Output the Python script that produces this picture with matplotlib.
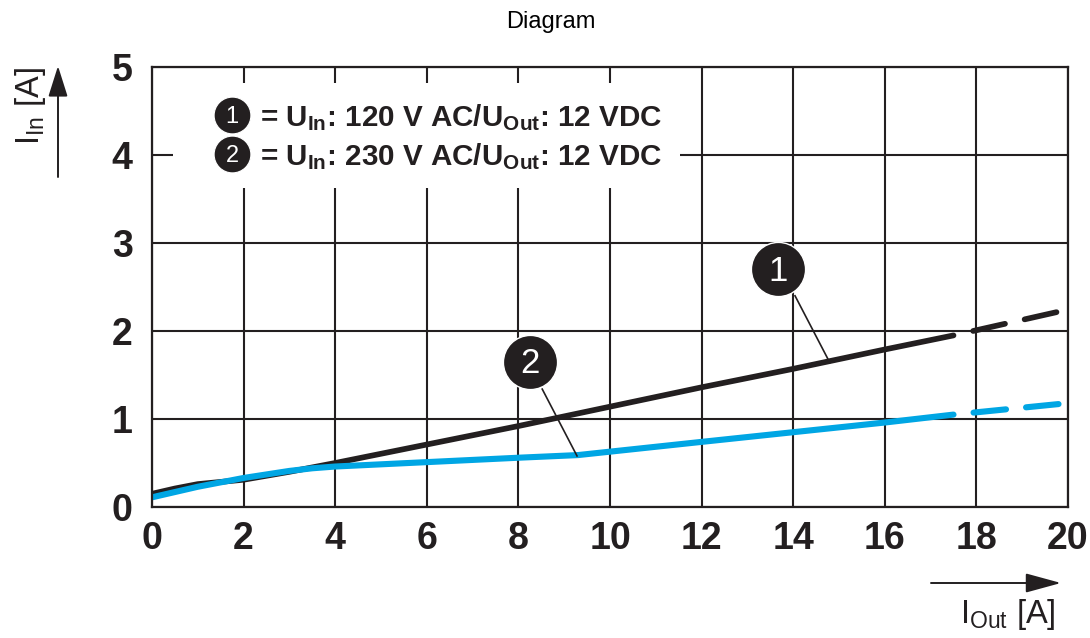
import matplotlib
matplotlib.use("Agg")
import matplotlib.pyplot as plt
from matplotlib.patches import Rectangle

plt.rcParams['font.family'] = ['Liberation Sans', 'DejaVu Sans']
plt.rcParams['mathtext.fontset'] = 'custom'
plt.rcParams['mathtext.rm'] = 'Liberation Sans'
plt.rcParams['mathtext.bf'] = 'Liberation Sans:bold'
plt.rcParams['mathtext.it'] = 'Liberation Sans'

# ---- data ----
x_ticks = [0, 2, 4, 6, 8, 10, 12, 14, 16, 18, 20]
y_ticks = [0, 1, 2, 3, 4, 5]

# curve 1: U_In 120 V AC
i_out_1 = [0, 0.5, 1, 1.5, 2, 3, 4, 6, 8, 10, 12, 14, 16, 17.5, 19.8]
i_in_1 = [0.15, 0.21, 0.26, 0.285, 0.31, 0.40, 0.50, 0.71, 0.92, 1.14, 1.36, 1.57, 1.79, 1.95, 2.22]
# curve 2: U_In 230 V AC
i_out_2 = [0, 0.5, 1, 1.5, 2, 3, 3.5, 4, 6, 8, 9.3, 12, 14, 16, 17.5, 19.8]
i_in_2 = [0.11, 0.17, 0.23, 0.28, 0.33, 0.41, 0.44, 0.46, 0.51, 0.56, 0.59, 0.74, 0.85, 0.96, 1.05, 1.17]
solid_limit = 17.5  # beyond this, curves are dashed

legend_lines = ["= U$_{\\mathbf{In}}$: 120 V AC/U$_{\\mathbf{Out}}$: 12 VDC",
                "= U$_{\\mathbf{In}}$: 230 V AC/U$_{\\mathbf{Out}}$: 12 VDC"]
labels = ["1", "2"]

BLACK = '#231f20'
BLUE = '#00a6e4'

W, H = 1090, 638
fig = plt.figure(figsize=(W / 100, H / 100), dpi=100)
ax = fig.add_axes([152 / W, 1 - 507 / H, 916 / W, 440 / H])

ax.set_xlim(0, 20)
ax.set_ylim(0, 5)
ax.set_xticks(x_ticks)
ax.set_yticks(y_ticks)
ax.set_xticklabels([str(v) for v in x_ticks], fontsize=27, fontweight='bold')
ax.set_yticklabels([str(v) for v in y_ticks], fontsize=27, fontweight='bold')
ax.tick_params(axis='both', length=0, colors=BLACK)
ax.tick_params(axis='x', pad=10)
ax.tick_params(axis='y', pad=14)
ax.grid(True, color=BLACK, linewidth=1.5, zorder=1)
for s in ax.spines.values():
    s.set_linewidth(1.6)
    s.set_color(BLACK)
    s.set_zorder(5)

# white box behind the legend
ax.add_patch(Rectangle((21 / 916, 319 / 440), 507 / 916, 105 / 440,
                       transform=ax.transAxes, facecolor='white',
                       edgecolor='none', zorder=2))


def draw_curve(xs, ys, color, lw, z):
    sx = [x for x in xs if x <= solid_limit]
    sy = ys[:len(sx)]
    dx = [x for x in xs if x >= solid_limit]
    dy = ys[len(xs) - len(dx):]
    ax.plot(sx, sy, color=color, lw=lw, solid_capstyle='round',
            solid_joinstyle='round', zorder=z)
    on, off = 23.5 / lw, 14.5 / lw
    ax.plot(dx, dy, color=color, lw=lw, linestyle=(on, (on, off)),
            dash_capstyle='round', zorder=z)


draw_curve(i_out_1, i_in_1, BLACK, 4.1, 3)
draw_curve(i_out_2, i_in_2, BLUE, 4.4, 4)

# numbered markers with leader lines
markers = [((13.67, 2.70), (14.04, 2.40), (14.80, 1.64)),
           ((8.25, 1.65), (8.52, 1.34), (9.28, 0.58))]
for lab, (c, p0, p1) in zip(labels, markers):
    ax.plot([p0[0], p1[0]], [p0[1], p1[1]], color=BLACK, lw=1.2, zorder=6)
    ax.plot([c[0]], [c[1]], 'o', ms=39, color=BLACK, mec='white', mew=1.0,
            zorder=7)
    ax.text(c[0], c[1] - 0.02, lab, color='white', fontsize=25,
            ha='center', va='center', zorder=8)

# legend
leg_y = [392 / 440, 353 / 440]
for lab, txt, yy in zip(labels, legend_lines, leg_y):
    ax.plot([80 / 916], [yy], 'o', ms=26.5, color=BLACK, mec='white', mew=0.8,
            transform=ax.transAxes, zorder=7, clip_on=False)
    ax.text(80 / 916, yy - 0.004, lab, color='white', fontsize=17,
            ha='center', va='center', transform=ax.transAxes, zorder=8)
    ax.text(108 / 916, yy - 0.006, txt, fontsize=21.3, fontweight='bold',
            color=BLACK, ha='left', va='center', transform=ax.transAxes,
            zorder=8)

# title
fig.text(551 / W, 1 - 22 / H, "Diagram", fontsize=17, ha='center',
         va='center', color='black')

# y axis label + arrow
fig.text(30 / W, 1 - 106 / H, "I$_{\\mathrm{In}}$ [A]", fontsize=23.5,
         rotation=90, ha='center', va='center', color=BLACK)
fig.add_artist(matplotlib.patches.FancyArrowPatch(
    (58 / W, 1 - 177 / H), (58 / W, 1 - 66 / H), transform=fig.transFigure,
    arrowstyle='-|>,head_length=1.9,head_width=0.6', lw=1.4, color=BLACK,
    mutation_scale=10, shrinkA=0, shrinkB=0))

# x axis label + arrow
fig.text(1008 / W, 1 - 614 / H, "I$_{\\mathrm{Out}}$ [A]", fontsize=23.5,
         ha='center', va='center', color=BLACK)
fig.add_artist(matplotlib.patches.FancyArrowPatch(
    (931 / W, 1 - 583 / H), (1061 / W, 1 - 583 / H), transform=fig.transFigure,
    arrowstyle='-|>,head_length=2.2,head_width=0.6', lw=1.4, color=BLACK,
    mutation_scale=10, shrinkA=0, shrinkB=0))

fig.savefig("out.png", dpi=100, facecolor='white')
